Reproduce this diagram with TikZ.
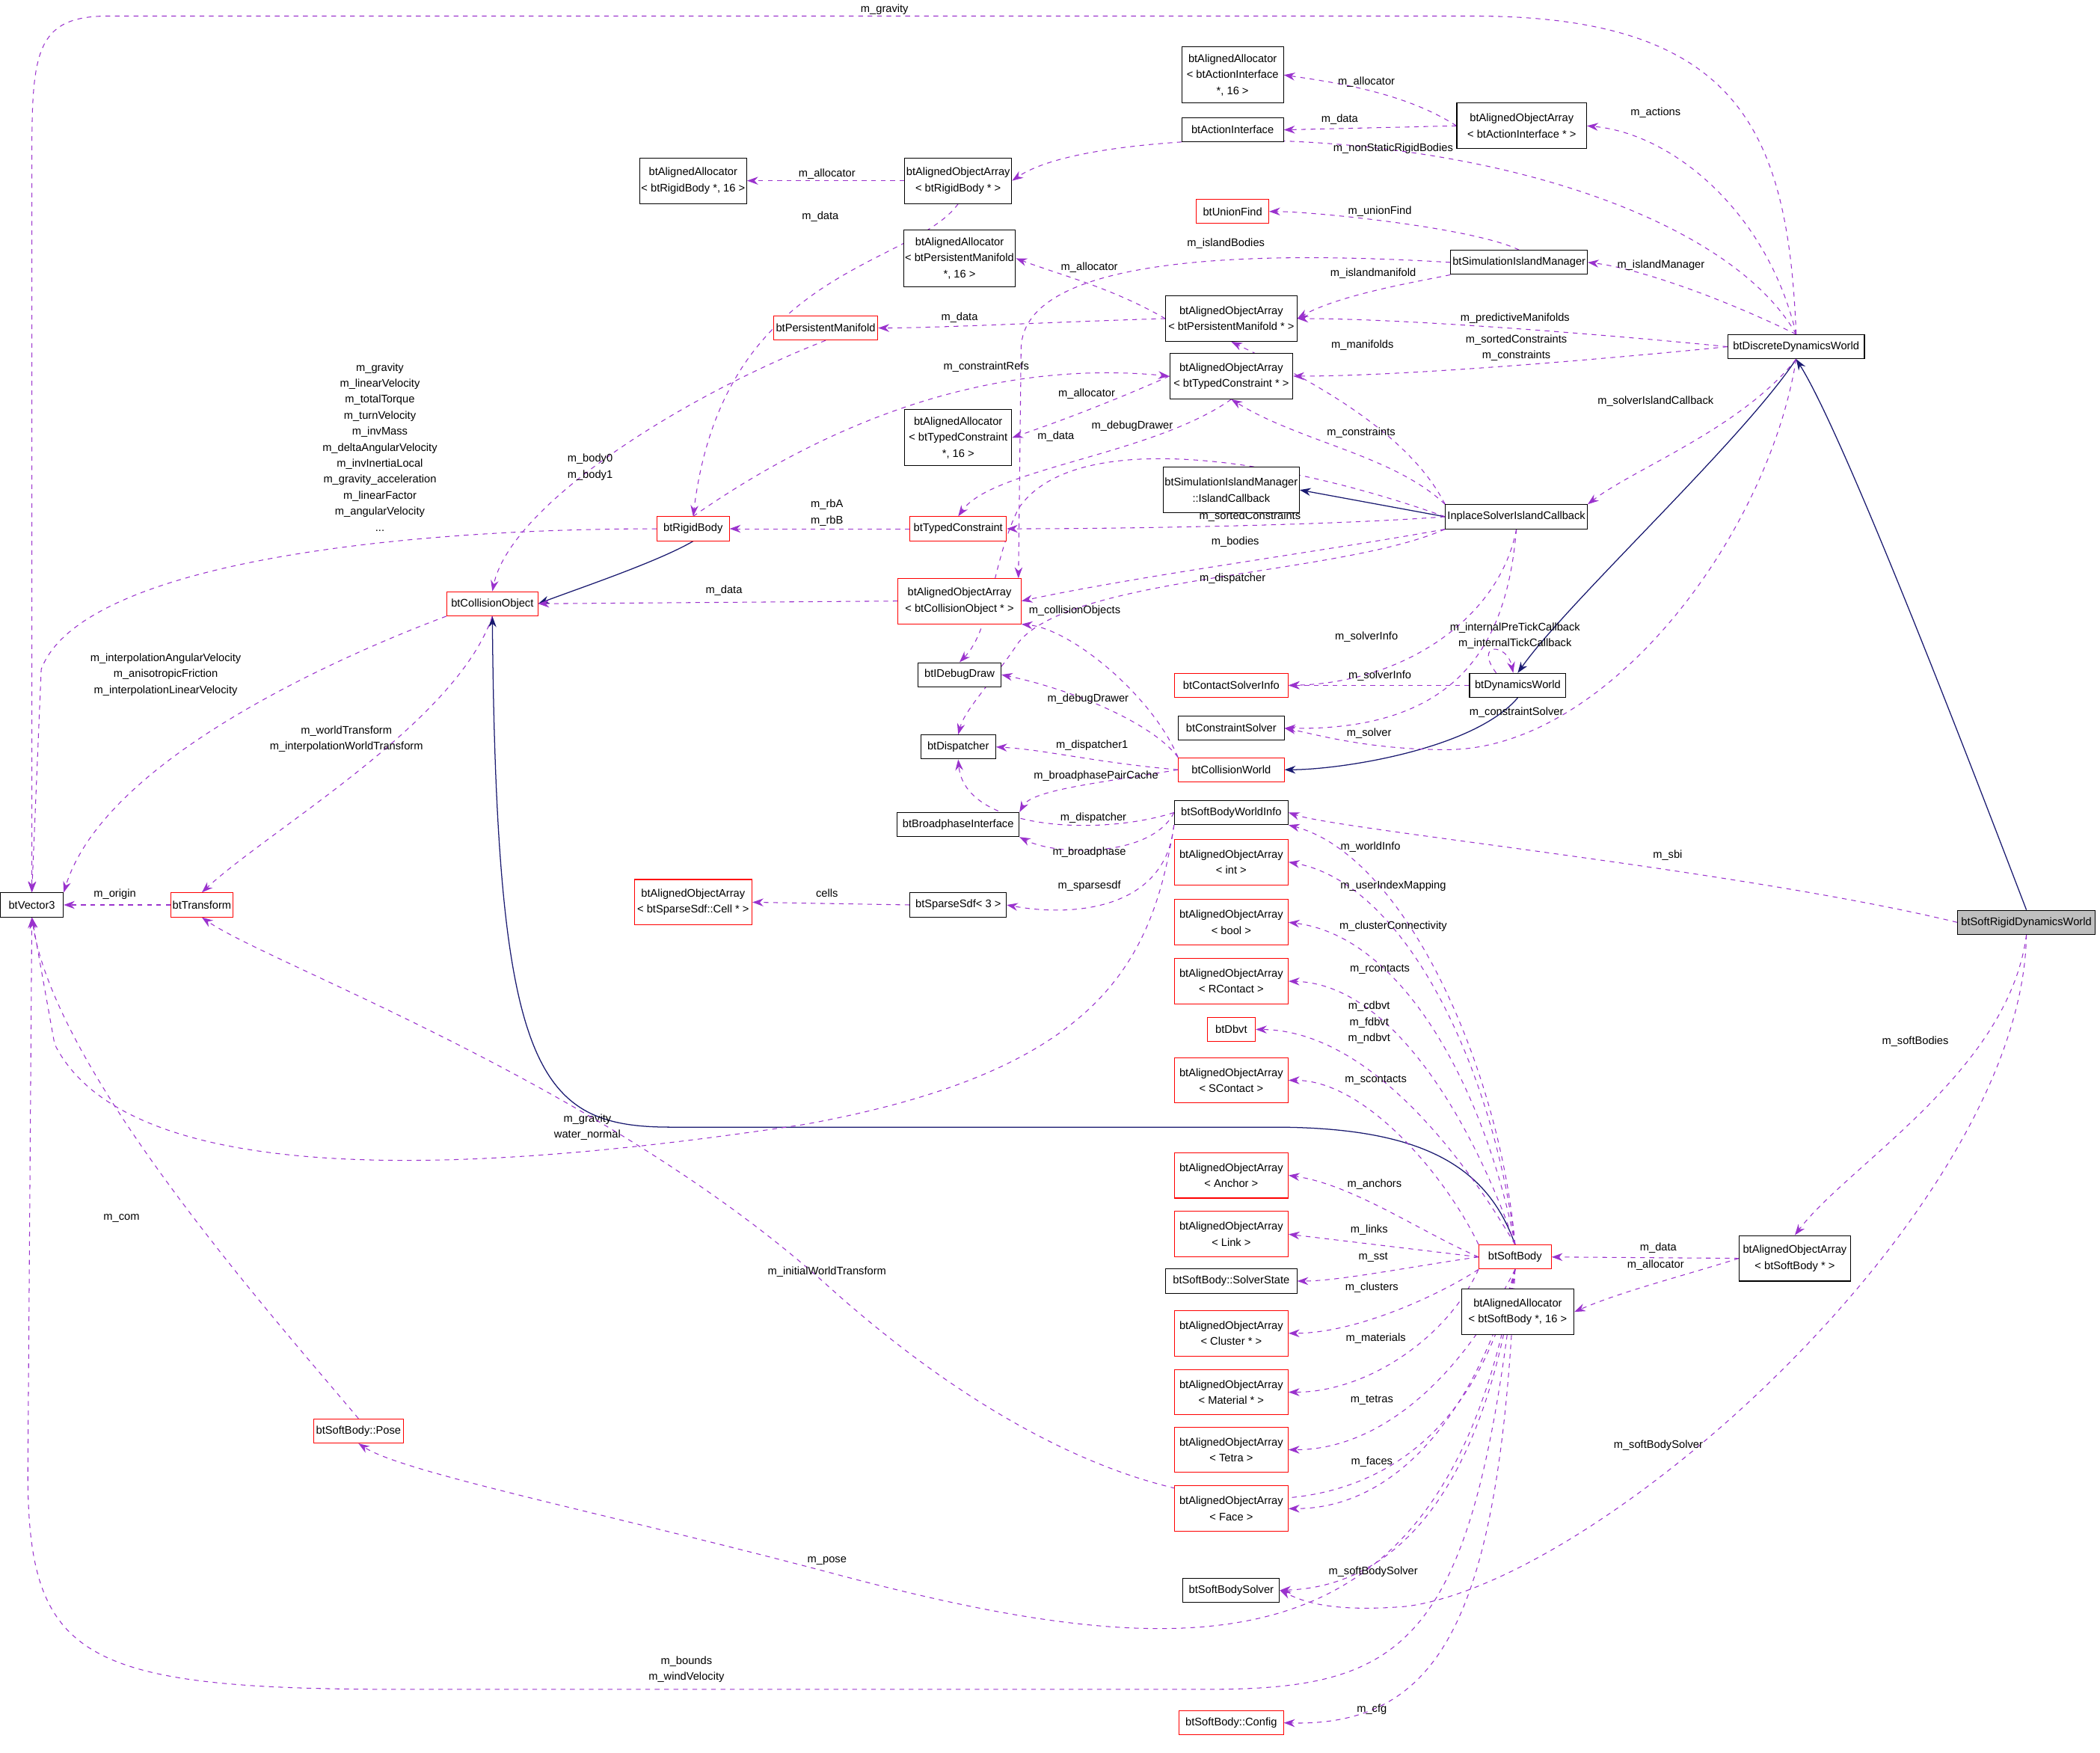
\documentclass[tikz,border=0pt]{standalone}
\usepackage{fontspec}
\setmainfont{Liberation Sans}
\usetikzlibrary{arrows.meta}
\definecolor{dpurple}{RGB}{154,50,205}
\definecolor{dnavy}{RGB}{25,25,112}
\definecolor{dred}{RGB}{255,0,0}
\pgfdeclarelayer{bg}
\pgfsetlayers{bg,main}
\tikzset{
  bw/.style={minimum width=#1*0.03cm},
  bh/.style={minimum height=#1*0.03cm},
  box/.style={draw=black,line width=0.5pt,fill=white,align=center,inner sep=1pt,font=\fontsize{7}{10.2}\selectfont,minimum height=18*0.03cm},
  rbox/.style={box,draw=dred},
  gbox/.style={box,fill=gray!50},
  dep/.style={draw=dpurple,dashed,line width=0.5pt,-{Stealth[length=7pt,width=5pt,fill=dpurple]}},
  inh/.style={draw=dnavy,line width=0.6pt,-{Stealth[length=7pt,width=5pt,fill=dnavy]}},
  lbl/.style={inner sep=0pt,align=center,font=\fontsize{7}{10.2}\selectfont}
}
\begin{document}
\begin{tikzpicture}[x=0.03cm,y=-0.03cm]
\begin{pgfonlayer}{bg}
\useasboundingbox[fill=white] (0,0) rectangle (1568,1309);
\end{pgfonlayer}
% nodes
\node[box,bw=47] (v3) at (23,676) {btVector3};
\node[rbox,bw=46] (tr) at (150,676) {btTransform};
\node[rbox,bw=68] (co) at (367,451) {btCollisionObject};
\node[rbox,bw=54] (rb) at (517,395) {btRigidBody};
\node[box,bw=80,bh=34] (aarb) at (517,135) {btAlignedAllocator\\< btRigidBody *, 16 >};
\node[box,bw=80,bh=34] (aoarb) at (715,135) {btAlignedObjectArray\\< btRigidBody * >};
\node[box,bw=76,bh=42] (aaai) at (920,56) {btAlignedAllocator\\< btActionInterface\\ *, 16 >};
\node[box,bw=76] (ai) at (920,97) {btActionInterface};
\node[box,bw=97,bh=34] (aoaai) at (1136,94) {btAlignedObjectArray\\< btActionInterface * >};
\node[rbox,bw=54] (uf) at (920,158) {btUnionFind};
\node[box,bw=82,bh=42] (aapm) at (716,193) {btAlignedAllocator\\< btPersistentManifold\\ *, 16 >};
\node[box,bw=102] (sim) at (1134,196) {btSimulationIslandManager};
\node[box,bw=98,bh=34] (aoapm) at (919,238) {btAlignedObjectArray\\< btPersistentManifold * >};
\node[rbox,bw=78] (pm) at (616,245) {btPersistentManifold};
\node[box,bw=102] (ddw) at (1341,259) {btDiscreteDynamicsWorld};
\node[box,bw=92,bh=34] (aoatc) at (919,281) {btAlignedObjectArray\\< btTypedConstraint * >};
\node[box,bw=80,bh=42] (aatc) at (715,327) {btAlignedAllocator\\< btTypedConstraint\\ *, 16 >};
\node[box,bw=98,bh=34] (simcb) at (919,366) {btSimulationIslandManager\\::IslandCallback};
\node[box,bw=106] (ispc) at (1132,386) {InplaceSolverIslandCallback};
\node[rbox,bw=72] (tc) at (715,395) {btTypedConstraint};
\node[rbox,bw=92,bh=34] (aoaco) at (716,449) {btAlignedObjectArray\\< btCollisionObject * >};
\node[box,bw=62] (dd) at (716,504) {btIDebugDraw};
\node[rbox,bw=85] (csi) at (919,512) {btContactSolverInfo};
\node[box,bw=72] (dw) at (1133,512) {btDynamicsWorld};
\node[box,bw=79] (cs) at (919,544) {btConstraintSolver};
\node[box,bw=56] (disp) at (715,558) {btDispatcher};
\node[rbox,bw=79] (cw) at (919,575) {btCollisionWorld};
\node[box,bw=91] (bi) at (715,616) {btBroadphaseInterface};
\node[box,bw=85] (sbwi) at (919,607) {btSoftBodyWorldInfo};
\node[rbox,bw=85,bh=34] (aoint) at (919,644) {btAlignedObjectArray\\< int >};
\node[rbox,bw=88,bh=34] (aocell) at (517,674) {btAlignedObjectArray\\< btSparseSdf::Cell * >};
\node[box,bw=72] (sdf) at (715,676) {btSparseSdf< 3 >};
\node[rbox,bw=85,bh=34] (aobool) at (919,689) {btAlignedObjectArray\\< bool >};
\node[rbox,bw=85,bh=34] (aorc) at (919,733) {btAlignedObjectArray\\< RContact >};
\node[rbox,bw=36] (dbvt) at (919,769) {btDbvt};
\node[rbox,bw=85,bh=34] (aosc) at (919,807) {btAlignedObjectArray\\< SContact >};
\node[rbox,bw=85,bh=34] (aoanc) at (919,878) {btAlignedObjectArray\\< Anchor >};
\node[rbox,bw=85,bh=34] (aolink) at (919,922) {btAlignedObjectArray\\< Link >};
\node[box,bw=98] (sst) at (919,957) {btSoftBody::SolverState};
\node[rbox,bw=54] (sb) at (1131,939) {btSoftBody};
\node[box,bw=83,bh=34] (aosb) at (1340,940) {btAlignedObjectArray\\< btSoftBody * >};
\node[box,bw=84,bh=34] (aasb) at (1133,980) {btAlignedAllocator\\< btSoftBody *, 16 >};
\node[rbox,bw=85,bh=34] (aocl) at (919,996) {btAlignedObjectArray\\< Cluster * >};
\node[rbox,bw=85,bh=34] (aomat) at (919,1040) {btAlignedObjectArray\\< Material * >};
\node[rbox,bw=85,bh=34] (aotet) at (919,1083) {btAlignedObjectArray\\< Tetra >};
\node[rbox,bw=85,bh=34] (aoface) at (919,1127) {btAlignedObjectArray\\< Face >};
\node[rbox,bw=67] (pose) at (267,1069) {btSoftBody::Pose};
\node[box,bw=72] (sbs) at (919,1188) {btSoftBodySolver};
\node[rbox,bw=78] (cfg) at (919,1287) {btSoftBody::Config};
\node[gbox,bw=103] (srdw) at (1513,689) {btSoftRigidDynamicsWorld};

\begin{pgfonlayer}{bg}
% inheritance
\draw[inh] (rb.south) .. controls (490,420) and (430,440) .. (co.east);
\draw[inh] (sb.north) .. controls (1110,870) and (1060,842) .. (950,842) -- (500,842) .. controls (400,842) and (370,800) .. (co.south);
\draw[inh] (ispc.west) -- (simcb.east);
\draw[inh] (ddw.south) .. controls (1300,330) and (1170,450) .. (dw.north);
\draw[inh] (dw.south) .. controls (1100,560) and (1000,575) .. (cw.east);
\draw[inh] (srdw.north) .. controls (1490,620) and (1380,330) .. (ddw.south);

% dependencies
\draw[dep] (ddw.north) .. controls (1335,100) and (1300,12) .. (1100,12) -- (80,12) .. controls (25,12) and (23,40) .. (23,120) -- (v3.north);
\node[lbl] (l1) at (660,7) {m\_gravity};
\draw[dep] (aoaai.west) .. controls (1050,70) and (1000,62) .. (aaai.east);
\node[lbl] (l2) at (1020,61) {m\_allocator};
\draw[dep] (aoaai.west) -- (ai.east);
\node[lbl] (l3) at (1000,89) {m\_data};
\draw[dep] (ddw.north) .. controls (1320,160) and (1250,100) .. (aoaai.east);
\node[lbl] (l4) at (1236,84) {m\_actions};
\draw[dep] (ddw.north) .. controls (1290,160) and (1100,100) .. (900,105) .. controls (800,110) and (770,125) .. (aoarb.east);
\node[lbl] (l5) at (1040,111) {m\_nonStaticRigidBodies};
\draw[dep] (aoarb.west) -- (aarb.east);
\node[lbl] (l6) at (617,130) {m\_allocator};
\draw[dep] (aoarb.south) .. controls (680,200) and (540,200) .. (rb.north);
\node[lbl] (l7) at (612,162) {m\_data};
\draw[dep] (sim.north) .. controls (1100,170) and (980,158) .. (uf.east);
\node[lbl] (l8) at (1030,158) {m\_unionFind};
\draw[dep] (sim.west) .. controls (950,188) and (764,188) .. (762,260) -- (760,432);
\node[lbl] (l9) at (915,182) {m\_islandBodies};
\draw[dep] (sim.south west) .. controls (1060,210) and (1000,220) .. (aoapm.east);
\node[lbl] (l10) at (1025,204) {m\_islandmanifold};
\draw[dep] (ddw.north) .. controls (1280,220) and (1220,200) .. (sim.east);
\node[lbl] (l11) at (1240,198) {m\_islandManager};
\draw[dep] (aoapm.west) .. controls (830,215) and (790,205) .. (aapm.east);
\node[lbl] (l12) at (813,200) {m\_allocator};
\draw[dep] (aoapm.west) .. controls (800,240) and (700,245) .. (pm.east);
\node[lbl] (l13) at (716,237) {m\_data};
\draw[dep] (ddw.west) .. controls (1200,250) and (1050,238) .. (aoapm.east);
\node[lbl] (l14) at (1131,238) {m\_predictiveManifolds};
\draw[dep] (ddw.west) .. controls (1200,268) and (1050,281) .. (aoatc.east);
\node[lbl] (l15) at (1132,260) {m\_sortedConstraints\\m\_constraints};
\draw[dep] (pm.south) .. controls (500,300) and (380,380) .. (co.north);
\node[lbl] (l16) at (440,349) {m\_body0\\m\_body1};
\draw[dep] (rb.north) .. controls (640,300) and (760,270) .. (aoatc.west);
\node[lbl] (l17) at (736,274) {m\_constraintRefs};
\draw[dep] (aoatc.west) .. controls (830,300) and (790,315) .. (aatc.east);
\node[lbl] (l18) at (811,294) {m\_allocator};
\draw[dep] (aoatc.south) .. controls (860,340) and (740,350) .. (tc.north);
\node[lbl] (l19) at (788,326) {m\_data};
\draw[dep] (ispc.north west) .. controls (1050,320) and (970,280) .. (aoapm.south);
\node[lbl] (l20) at (1017,258) {m\_manifolds};
\draw[dep] (ispc.north west) .. controls (1040,340) and (970,330) .. (aoatc.south);
\node[lbl] (l21) at (1016,323) {m\_constraints};
\draw[dep] (ispc.west) .. controls (950,340) and (800,320) .. (760,380) .. controls (740,420) and (740,470) .. (dd.north);
\node[lbl] (l22) at (845,318) {m\_debugDrawer};
\draw[dep] (ddw.south) .. controls (1300,320) and (1220,350) .. (ispc.north east);
\node[lbl] (l23) at (1236,300) {m\_solverIslandCallback};
\draw[dep] (rb.west) .. controls (300,395) and (60,420) .. (30,500) -- (v3.north);
\node[lbl] (l24) at (283,334) {m\_gravity\\m\_linearVelocity\\m\_totalTorque\\m\_turnVelocity\\m\_invMass\\m\_deltaAngularVelocity\\m\_invInertiaLocal\\m\_gravity\_acceleration\\m\_linearFactor\\m\_angularVelocity\\...};
\draw[dep] (tc.west) -- (rb.east);
\node[lbl] (l25) at (617,383) {m\_rbA\\m\_rbB};
\draw[dep] (ispc.west) .. controls (1000,392) and (850,395) .. (tc.east);
\node[lbl] (l26) at (933,386) {m\_sortedConstraints};
\draw[dep] (ispc.south west) .. controls (1000,410) and (850,430) .. (aoaco.east);
\node[lbl] (l27) at (922,405) {m\_bodies};
\draw[dep] (ispc.south west) .. controls (1000,430) and (800,430) .. (760,480) .. controls (740,510) and (720,530) .. (disp.north);
\node[lbl] (l28) at (920,432) {m\_dispatcher};
\draw[dep] (aoaco.west) -- (co.east);
\node[lbl] (l29) at (540,441) {m\_data};
\draw[dep] (co.south west) .. controls (280,480) and (80,560) .. (v3.north east);
\node[lbl] (l30) at (123,504) {m\_interpolationAngularVelocity\\m\_anisotropicFriction\\m\_interpolationLinearVelocity};
\draw[dep] (co.south) .. controls (340,540) and (200,620) .. (tr.north);
\node[lbl] (l31) at (258,552) {m\_worldTransform\\m\_interpolationWorldTransform};
\draw[dep] (tr.west) -- (v3.east);
\node[lbl] (l32) at (85,668) {m\_origin};
\draw[dep] (ispc.south) .. controls (1120,460) and (1050,510) .. (csi.east);
\node[lbl] (l33) at (1020,476) {m\_solverInfo};
\draw[dep] (ispc.south) .. controls (1125,480) and (1090,546) .. (cs.east);
\node[lbl] (l34) at (1022,548) {m\_solver};
\draw[dep] (dw.150) .. controls (1100,480) and (1125,480) .. (dw.110);
\node[lbl] (l35) at (1131,475) {m\_internalPreTickCallback\\m\_internalTickCallback};
\draw[dep] (dw.west) -- (csi.east);
\node[lbl] (l36) at (1030,505) {m\_solverInfo};
\draw[dep] (ddw.south) .. controls (1320,400) and (1200,560) .. (1080,560) .. controls (1020,560) and (980,548) .. (cs.east);
\node[lbl] (l37) at (1132,532) {m\_constraintSolver};
\draw[dep] (cw.north west) .. controls (860,520) and (800,470) .. (aoaco.south east);
\node[lbl] (l38) at (802,456) {m\_collisionObjects};
\draw[dep] (cw.north west) .. controls (860,540) and (800,515) .. (dd.east);
\node[lbl] (l39) at (812,522) {m\_debugDrawer};
\draw[dep] (cw.west) .. controls (820,570) and (780,560) .. (disp.east);
\node[lbl] (l40) at (815,557) {m\_dispatcher1};
\draw[dep] (cw.west) .. controls (820,585) and (770,590) .. (bi.north east);
\node[lbl] (l41) at (818,580) {m\_broadphasePairCache};
\draw[dep] (sbwi.west) .. controls (820,625) and (720,620) .. (disp.south);
\node[lbl] (l42) at (816,611) {m\_dispatcher};
\draw[dep] (sbwi.west) .. controls (860,640) and (790,640) .. (bi.south east);
\node[lbl] (l43) at (813,637) {m\_broadphase};
\draw[dep] (sbwi.south west) .. controls (870,680) and (800,685) .. (sdf.east);
\node[lbl] (l44) at (813,662) {m\_sparsesdf};
\draw[dep] (sbwi.south west) .. controls (860,720) and (820,800) .. (600,840) .. controls (400,870) and (100,900) .. (40,780) -- (v3.south);
\node[lbl] (l45) at (438,842) {m\_gravity\\water\_normal};
\draw[dep] (sdf.west) -- (aocell.east);
\node[lbl] (l46) at (617,667) {cells};
\draw[dep] (srdw.west) .. controls (1300,650) and (1000,620) .. (sbwi.east);
\node[lbl] (l47) at (1245,639) {m\_sbi};
\draw[dep] (srdw.south) .. controls (1500,800) and (1380,870) .. (aosb.north);
\node[lbl] (l48) at (1430,778) {m\_softBodies};
\draw[dep] (srdw.south) .. controls (1510,900) and (1200,1180) .. (1050,1200) .. controls (990,1205) and (970,1195) .. (sbs.east);
\node[lbl] (l49) at (1238,1080) {m\_softBodySolver};
\draw[dep] (aosb.west) -- (sb.east);
\node[lbl] (l50) at (1238,932) {m\_data};
\draw[dep] (aosb.west) .. controls (1250,955) and (1210,965) .. (aasb.east);
\node[lbl] (l51) at (1236,945) {m\_allocator};
% softbody fan
\draw[dep] (sb.north) .. controls (1120,800) and (1050,640) .. (sbwi.south east);
\node[lbl] (l52) at (1023,633) {m\_worldInfo};
\draw[dep] (sb.north) .. controls (1115,800) and (1050,660) .. (aoint.east);
\node[lbl] (l53) at (1040,662) {m\_userIndexMapping};
\draw[dep] (sb.north) .. controls (1110,820) and (1050,700) .. (aobool.east);
\node[lbl] (l54) at (1040,692) {m\_clusterConnectivity};
\draw[dep] (sb.north) .. controls (1100,840) and (1040,735) .. (aorc.east);
\node[lbl] (l55) at (1030,724) {m\_rcontacts};
\draw[dep] (sb.north) .. controls (1090,860) and (1020,770) .. (dbvt.east);
\node[lbl] (l56) at (1022,764) {m\_cdbvt\\m\_fdbvt\\m\_ndbvt};
\draw[dep] (sb.north west) .. controls (1080,880) and (1020,807) .. (aosc.east);
\node[lbl] (l57) at (1027,807) {m\_scontacts};
\draw[dep] (sb.west) .. controls (1060,920) and (1010,885) .. (aoanc.east);
\node[lbl] (l58) at (1026,885) {m\_anchors};
\draw[dep] (sb.west) -- (aolink.east);
\node[lbl] (l59) at (1022,919) {m\_links};
\draw[dep] (sb.west) .. controls (1060,945) and (1000,957) .. (sst.east);
\node[lbl] (l60) at (1025,939) {m\_sst};
\draw[dep] (sb.south west) .. controls (1070,970) and (1010,996) .. (aocl.east);
\node[lbl] (l61) at (1024,962) {m\_clusters};
\draw[dep] (sb.south west) .. controls (1080,1000) and (1020,1040) .. (aomat.east);
\node[lbl] (l62) at (1027,1000) {m\_materials};
\draw[dep] (sb.south) .. controls (1090,1030) and (1030,1083) .. (aotet.east);
\node[lbl] (l63) at (1024,1046) {m\_tetras};
\draw[dep] (sb.south) .. controls (1100,1060) and (1040,1127) .. (aoface.east);
\node[lbl] (l64) at (1024,1092) {m\_faces};
\draw[dep] (sb.south) .. controls (1080,1180) and (850,1170) .. (617,960) .. controls (450,810) and (200,720) .. (tr.south);
\node[lbl] (l65) at (617,950) {m\_initialWorldTransform};
\draw[dep] (sb.south) .. controls (1080,1250) and (900,1250) .. (620,1175) .. controls (450,1130) and (300,1100) .. (pose.south);
\node[lbl] (l66) at (617,1166) {m\_pose};
\draw[dep] (sb.south) .. controls (1110,1100) and (1050,1185) .. (sbs.east);
\node[lbl] (l67) at (1025,1174) {m\_softBodySolver};
\draw[dep] (sb.south) .. controls (1100,1230) and (1050,1262) .. (900,1262) -- (300,1262) .. controls (60,1262) and (20,1240) .. (20,1100) -- (v3.south);
\node[lbl] (l68) at (512,1247) {m\_bounds\\m\_windVelocity};
\draw[dep] (sb.south) .. controls (1120,1200) and (1080,1290) .. (cfg.east);
\node[lbl] (l69) at (1024,1277) {m\_cfg};
\draw[dep] (pose.north) .. controls (200,980) and (40,800) .. (v3.south);
\node[lbl] (l70) at (90,910) {m\_com};
\end{pgfonlayer}
\end{tikzpicture}
\end{document}
